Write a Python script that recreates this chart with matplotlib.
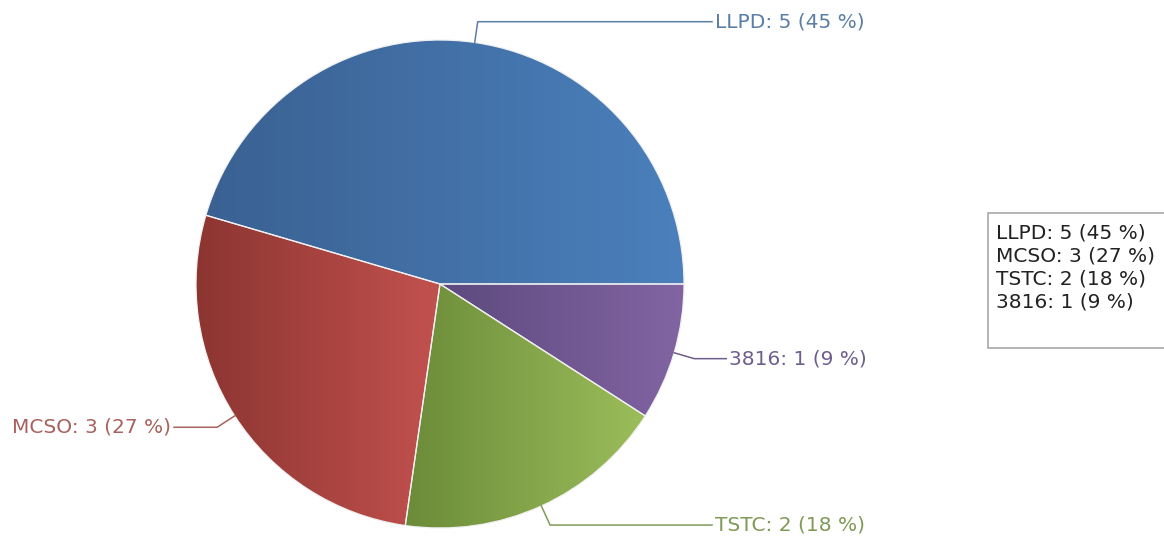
import numpy as np
import matplotlib.pyplot as plt
from matplotlib.patches import Wedge, Rectangle
from matplotlib.colors import LinearSegmentedColormap

# slice data
names = ['LLPD', 'MCSO', 'TSTC', '3816']
counts = [5, 3, 2, 1]
dark_colors = ['#3a6192', '#8c3531', '#6b8b39', '#5d4a7e']
light_colors = ['#4b80bc', '#c2514e', '#9cbd5a', '#8264a3']
label_colors = ['#5b7ea6', '#a8625d', '#7f9a57', '#6d5e8e']

W, H = 1164, 540
cx, cy, r = 440, H - 284, 244

fig = plt.figure(figsize=(W / 100, H / 100), dpi=100)
ax = fig.add_axes([0, 0, 1, 1])
ax.set_xlim(0, W)
ax.set_ylim(0, H)
ax.axis('off')

total = sum(counts)
labels = [f'{n}: {c} ({round(c / total * 100)} %)' for n, c in zip(names, counts)]

start = 0.0
for i, c in enumerate(counts):
    sweep = c / total * 360
    t1, t2 = start, start + sweep
    w = Wedge((cx, cy), r, t1, t2, facecolor='none', edgecolor='#f0f0f0', lw=0.9, zorder=3)
    ax.add_patch(w)
    # horizontal gradient over the slice's own extent
    angs = np.radians(np.linspace(t1, t2, 200))
    xs = np.concatenate([[cx], cx + r * np.cos(angs)])
    ys = np.concatenate([[cy], cy + r * np.sin(angs)])
    cmap = LinearSegmentedColormap.from_list(f'g{i}', [dark_colors[i], light_colors[i]])
    grad = np.linspace(0, 1, 256).reshape(1, -1)
    im = ax.imshow(grad, cmap=cmap, aspect='auto', zorder=2,
                   extent=[xs.min(), xs.max(), ys.min(), ys.max()])
    im.set_clip_path(w)

    # leader line + label
    mid = np.radians((t1 + t2) / 2)
    px, py = cx + r * np.cos(mid), cy + r * np.sin(mid)
    ex, ey = cx + (r + 21) * np.cos(mid), cy + (r + 21) * np.sin(mid)
    if np.cos(mid) >= 0:
        lx = max(ex + 32, 712)
        ha = 'left'
        tx = lx + 3
    else:
        lx = min(ex - 43, 175)
        ha = 'right'
        tx = lx - 3
    ax.plot([px, ex, lx], [py, ey, ey], color=label_colors[i], lw=1.1, zorder=4)
    ax.text(tx, ey, labels[i], ha=ha, va='center', fontsize=14.5,
            color=label_colors[i], family='DejaVu Sans')
    start = t2

# legend box
ax.add_patch(Rectangle((988, H - 348), 200, 135, facecolor='white',
                       edgecolor='#a8a8a8', lw=1.2, zorder=5))
for i, lab in enumerate(labels):
    ax.text(996, H - (233 + i * 23), lab, ha='left', va='center', fontsize=14.5,
            color='#222222', family='DejaVu Sans', zorder=6)

fig.savefig('out.png', dpi=100)
